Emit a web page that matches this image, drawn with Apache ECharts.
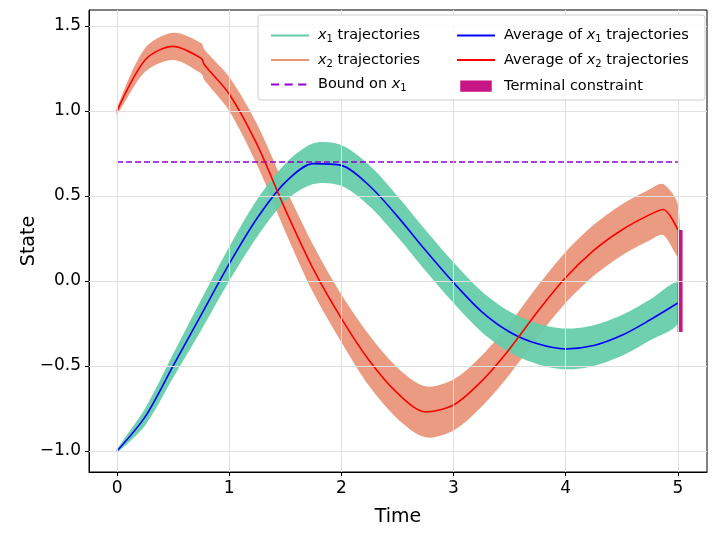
<!DOCTYPE html>
<html><head><meta charset="utf-8">
<script src="https://cdn.jsdelivr.net/npm/echarts@6/dist/echarts.min.js"></script>
<style>html,body{margin:0;padding:0;background:#fff}#c{width:718px;height:535px}</style>
</head><body><div id="c"></div>
<script>
const times = [0,0.25,0.5,0.75,1.0,1.25,1.5,1.75,2.0,2.25,2.5,2.75,3.0,3.25,3.5,3.75,4.0,4.25,4.5,4.75,5.0];
const x1Mean = [-1.0,-0.8,-0.5,-0.2,0.1,0.37,0.58,0.69,0.68,0.56,0.38,0.18,-0.01,-0.18,-0.3,-0.37,-0.4,-0.38,-0.32,-0.23,-0.13];
const x1Spread = [0.01,0.05,0.07,0.09,0.1,0.11,0.11,0.12,0.12,0.12,0.12,0.12,0.12,0.12,0.12,0.12,0.12,0.12,0.12,0.12,0.12];
const x2Times = [0,0.25,0.5,0.75,0.78,1.0,1.25,1.5,1.75,2.0,2.25,2.5,2.75,3.0,3.25,3.5,3.75,4.0,4.25,4.5,4.75,4.87,5.0];
const x2Mean = [1.0,1.3,1.38,1.31,1.27,1.1,0.8,0.42,0.07,-0.22,-0.47,-0.66,-0.77,-0.73,-0.59,-0.4,-0.18,0.02,0.18,0.3,0.39,0.42,0.3];
const x2Spread = [0.02,0.07,0.08,0.09,0.09,0.1,0.12,0.13,0.14,0.14,0.15,0.15,0.15,0.15,0.15,0.15,0.15,0.15,0.15,0.15,0.15,0.15,0.15];
const boundX1 = 0.7;
const terminal = [-0.3, 0.3];
const xTicks = [0,1,2,3,4,5];
const yTicks = [-1.0,-0.5,0.0,0.5,1.0,1.5];

const pairs = (ts, m) => ts.map((t,i)=>[t, m[i]]);
const bandData = (ts, m, s) => ts.map((t,i)=>[t, m[i]-s[i], m[i]+s[i]]);

function bandSeries(data, color){
  return {type:'custom',silent:true,z:2,data:[0],
    renderItem:(params, api)=>{
      if(params.dataIndex!==0) return;
      const up = data.map(d=>api.coord([d[0],d[2]]));
      const lo = data.map(d=>api.coord([d[0],d[1]])).reverse();
      return {type:'polygon',shape:{points:up.concat(lo),smooth:0.3},style:{fill:color,opacity:0.95}};
    }};
}

const rich = {i:{fontStyle:'italic',fontSize:14.5,fontFamily:'DejaVu Sans'},s:{fontSize:10,verticalAlign:'bottom',padding:[8,0,0,0],fontFamily:'DejaVu Sans'}};
const fmt = n => n.replace('x1','{i|x}{s|1}').replace('x2','{i|x}{s|2}');
const lineIcon = 'path://M0,0h0.01v0.01h-0.01z M0,4.2h28v1.6h-28z M27.99,9.99h0.01v0.01h-0.01z';
const dashIcon = 'path://M0,0h0.01v0.01h-0.01z M0,4.2h6v1.6h-6z M10,4.2h6v1.6h-6z M20,4.2h6v1.6h-6z M27.99,9.99h0.01v0.01h-0.01z';

const gridLines = xTicks.map(v=>({xAxis:v})).concat(yTicks.map(v=>({yAxis:v})));
const legText = {fontSize:14.5,fontFamily:'DejaVu Sans',color:'#000',rich:rich,padding:[0,0,0,4]};

const chart = echarts.init(document.getElementById('c'));
chart.setOption({
  animation:false,
  grid:{left:89,right:11,top:10,bottom:63,show:true,borderColor:'#000',borderWidth:1,backgroundColor:'transparent'},
  xAxis:{type:'value',min:-0.25,max:5.26,
    axisLabel:{customValues:xTicks,formatter:v=>String(v),fontSize:17,color:'#000',fontFamily:'DejaVu Sans',margin:8},
    axisTick:{customValues:xTicks,show:true,inside:false,length:4,lineStyle:{color:'#000'}},
    axisLine:{onZero:false,lineStyle:{color:'#000'}},
    splitLine:{show:false},
    name:'Time',nameLocation:'middle',nameGap:36,nameTextStyle:{fontSize:19,color:'#000',fontFamily:'DejaVu Sans'}},
  yAxis:{type:'value',min:-1.124,max:1.594,
    axisLabel:{customValues:yTicks,formatter:v=>(v<0?'\u2212':'')+Math.abs(v).toFixed(1),fontSize:17,color:'#000',fontFamily:'DejaVu Sans'},
    axisTick:{customValues:yTicks,show:true,length:4,lineStyle:{color:'#000'}},
    axisLine:{show:true,onZero:false,lineStyle:{color:'#000'}},
    splitLine:{show:false},
    name:'State',nameLocation:'middle',nameGap:50,nameMoveOverlap:false,nameTextStyle:{fontSize:19,color:'#000',fontFamily:'DejaVu Sans'}},
  legend:[
    {left:266,top:23,orient:'vertical',itemGap:8,itemWidth:38,itemHeight:18,z:10,textStyle:legText,formatter:fmt,
     data:[{name:'x1 trajectories',icon:lineIcon},{name:'x2 trajectories',icon:lineIcon},{name:'Bound on x1',icon:dashIcon}]},
    {left:452,top:23,orient:'vertical',itemGap:8,itemWidth:38,itemHeight:18,z:10,textStyle:legText,formatter:fmt,
     data:[{name:'Average of x1 trajectories',icon:lineIcon},{name:'Average of x2 trajectories',icon:lineIcon},{name:'Terminal constraint',icon:'path://M0,0h0.01v0.01h-0.01z M0,3h28v10h-28z M27.99,15.99h0.01v0.01h-0.01z'}]}
  ],
  graphic:[{type:'rect',shape:{x:258,y:15,width:447,height:85,r:3},style:{fill:'rgba(255,255,255,0.85)',stroke:'#d0d0d0'},z:8}],
  series:[
    {type:'line',data:[],silent:true,markLine:{silent:true,symbol:'none',label:{show:false},lineStyle:{color:'#e0e0e0',type:'solid',width:1},data:gridLines},z:1},
    bandSeries(bandData(x2Times,x2Mean,x2Spread),'#e9967a'),
    bandSeries(bandData(times,x1Mean,x1Spread),'#66cdaa'),
    {type:'line',name:'x1 trajectories',data:[],symbol:'none',color:'#66cdaa'},
    {type:'line',name:'x2 trajectories',data:[],symbol:'none',color:'#e9967a'},
    {type:'line',name:'Bound on x1',data:[[0,boundX1],[5,boundX1]],symbol:'none',color:'#9400d3',lineStyle:{color:'#9400d3',width:1.6,type:[6,3]},z:4},
    {type:'line',name:'Average of x1 trajectories',data:pairs(times,x1Mean),smooth:0.3,symbol:'none',color:'#0000ff',lineStyle:{color:'#0000ff',width:1.6},z:4},
    {type:'line',name:'Average of x2 trajectories',data:pairs(x2Times,x2Mean),smooth:0.3,symbol:'none',color:'#ff0000',lineStyle:{color:'#ff0000',width:1.6},z:4},
    {type:'line',name:'Terminal constraint',data:[[5.02,terminal[0]],[5.02,terminal[1]]],symbol:'none',color:'#c71585',lineStyle:{color:'#c71585',width:5},z:4}
  ]
});
</script></body></html>
